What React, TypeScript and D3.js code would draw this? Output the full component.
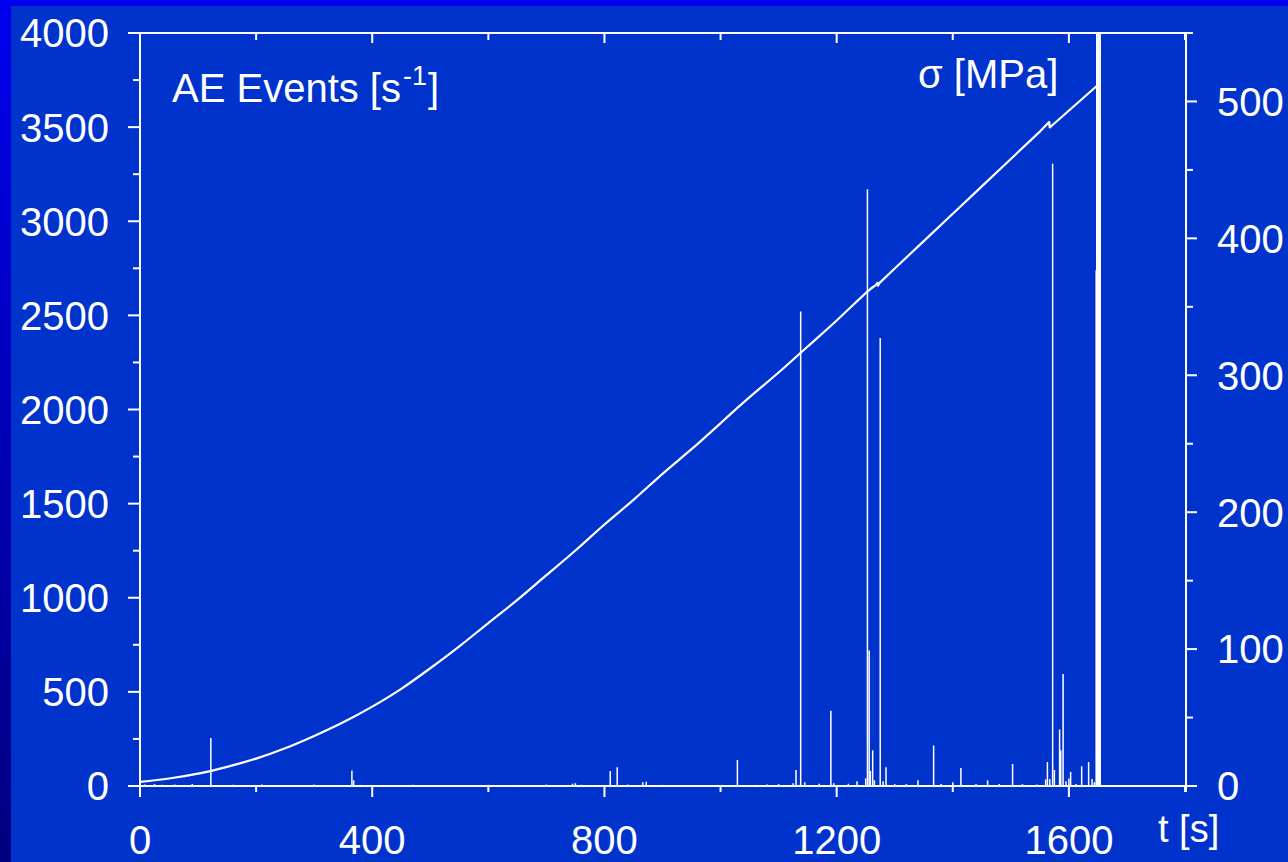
import React, { useRef, useEffect } from 'react';
import * as d3 from 'd3';

// stress curve (right axis)
const stressTime = [0, 50, 100, 150, 200, 250, 300, 350, 400, 450, 500, 550, 600, 650, 700, 750, 800, 850, 900, 950, 1000, 1050, 1100, 1150, 1200, 1250, 1268];
const stressValue = [3, 5.5, 9, 14, 20, 27.5, 36.5, 46.5, 58, 71, 86, 102, 119, 136, 154, 172, 191, 209, 228, 246, 265, 284, 302, 321, 340, 360, 366];
// from the little notch near 1270 s, through the drop near 1566 s, to failure
const stressTailTime = [1268, 1270, 1271, 1274, 1300, 1350, 1400, 1450, 1500, 1550, 1566, 1567, 1650];
const stressTailValue = [366, 367.5, 365.5, 367.5, 378, 398, 418, 438, 458, 478, 485, 481, 512];

// AE events (left axis)
const eventTime = [8, 25, 38, 60, 90, 122, 160, 210, 250, 300, 365, 368, 380, 420, 470, 520, 600, 650, 700, 745, 750, 760, 810, 822, 840, 866, 872, 900, 950, 1029, 1060, 1080, 1100, 1125, 1130, 1138, 1145, 1170, 1190, 1195, 1220, 1235, 1250, 1253, 1256, 1258, 1262, 1265, 1275, 1280, 1285, 1300, 1320, 1340, 1367, 1380, 1400, 1414, 1440, 1460, 1480, 1503, 1520, 1545, 1560, 1563, 1567, 1572, 1575, 1584, 1586, 1590, 1595, 1600, 1603, 1612, 1622, 1634, 1640, 1644, 1647, 1648, 1649, 1650, 1651, 1652, 1653, 1654];
const eventCount = [8, 10, 6, 8, 10, 255, 6, 8, 5, 8, 82, 30, 6, 5, 6, 5, 6, 6, 8, 12, 15, 6, 80, 100, 8, 20, 22, 6, 5, 138, 6, 8, 10, 15, 85, 2520, 20, 12, 400, 15, 12, 25, 40, 3170, 720, 80, 190, 30, 2380, 25, 100, 10, 10, 30, 215, 10, 20, 95, 10, 30, 10, 117, 10, 8, 35, 127, 37, 3305, 85, 300, 190, 595, 25, 40, 75, 10, 105, 127, 37, 20, 2740, 4500, 3900, 4500, 4500, 4500, 3550, 4500];

const timeTicks = [0, 400, 800, 1200, 1600];
const aeTicks = [0, 500, 1000, 1500, 2000, 2500, 3000, 3500, 4000];
const stressTicks = [0, 100, 200, 300, 400, 500];

const W = 1288;
const H = 862;
const FONT = '"Liberation Sans", Arial, sans-serif';

export default function App() {
  const ref = useRef<SVGSVGElement>(null);

  useEffect(() => {
    const svg = d3.select(ref.current);
    svg.selectAll('*').remove();

    const x = d3.scaleLinear().domain([0, 1800]).range([140, 1185]);
    const yAE = d3.scaleLinear().domain([0, 4000]).range([786, 33]);
    const yS = d3.scaleLinear().domain([0, 550]).range([786, 33]);
    const left = 140, right = 1186, top = 33, bottom = 786;

    // background
    const defs = svg.append('defs');
    const grad = defs.append('linearGradient').attr('id', 'edge').attr('x1', 0).attr('y1', 0).attr('x2', 0).attr('y2', 1);
    grad.append('stop').attr('offset', '0%').attr('stop-color', '#0000ee');
    grad.append('stop').attr('offset', '100%').attr('stop-color', '#000080');
    defs.append('clipPath').attr('id', 'plot')
      .append('rect').attr('x', left).attr('y', top).attr('width', right - left).attr('height', bottom - top);

    svg.append('rect').attr('width', W).attr('height', H).attr('fill', '#0033cc');
    svg.append('rect').attr('width', W).attr('height', 6).attr('fill', '#0000ee');
    svg.append('rect').attr('width', 11).attr('height', H).attr('fill', 'url(#edge)');

    const g = svg.append('g').attr('stroke', '#fff').attr('fill', 'none');

    // AE events
    const ev = g.append('g').attr('clip-path', 'url(#plot)').attr('stroke-width', 1.5);
    eventTime.forEach((t, i) => {
      ev.append('line')
        .attr('x1', x(t)).attr('x2', x(t))
        .attr('y1', yAE(0)).attr('y2', yAE(eventCount[i]));
    });

    // stress curve: smooth loading part, then straight segments
    const smooth = d3.line<number>()
      .x((_, i) => x(stressTime[i]))
      .y(d => yS(d))
      .curve(d3.curveNatural);
    const tail = d3.line<number>()
      .x((_, i) => x(stressTailTime[i]))
      .y(d => yS(d));
    g.append('path').datum(stressValue).attr('d', smooth).attr('stroke-width', 2.2).attr('stroke-linejoin', 'round');
    g.append('path').datum(stressTailValue).attr('d', tail).attr('stroke-width', 2.2).attr('stroke-linejoin', 'round');

    // frame
    const frame = g.append('g').attr('stroke-width', 2);
    frame.append('line').attr('x1', 128).attr('x2', 1193).attr('y1', top).attr('y2', top);
    frame.append('line').attr('x1', 128).attr('x2', 1197).attr('y1', bottom).attr('y2', bottom);
    frame.append('line').attr('x1', left).attr('x2', left).attr('y1', top).attr('y2', 797);
    frame.append('line').attr('x1', right).attr('x2', right).attr('y1', top).attr('y2', 792);

    // x ticks: bottom outward, top inward
    d3.range(0, 1801, 200).forEach(t => {
      const major = t % 400 === 0;
      frame.append('line').attr('x1', x(t)).attr('x2', x(t)).attr('y1', bottom).attr('y2', bottom + (major ? 11 : 6));
      frame.append('line').attr('x1', x(t)).attr('x2', x(t)).attr('y1', top).attr('y2', top + (major ? 10 : 7));
    });
    // left ticks
    d3.range(0, 4001, 250).forEach(v => {
      const major = v % 500 === 0;
      frame.append('line').attr('x1', left - (major ? 12 : 7)).attr('x2', left).attr('y1', yAE(v)).attr('y2', yAE(v));
    });
    // right ticks
    d3.range(0, 551, 50).forEach(v => {
      const major = v % 100 === 0;
      frame.append('line').attr('x1', right).attr('x2', right + (major ? 11 : 7)).attr('y1', yS(v)).attr('y2', yS(v));
    });

    const text = svg.append('g').attr('fill', '#fff').attr('font-family', FONT).attr('font-size', 40);

    aeTicks.forEach(v => {
      text.append('text').attr('x', 109).attr('y', yAE(v)).attr('dy', '0.36em').attr('text-anchor', 'end').text(v);
    });
    stressTicks.forEach(v => {
      text.append('text').attr('x', 1217).attr('y', yS(v)).attr('dy', '0.36em').text(v);
    });
    timeTicks.forEach(t => {
      text.append('text').attr('x', x(t)).attr('y', 854).attr('text-anchor', 'middle').text(t);
    });
    text.append('text').attr('x', 1158).attr('y', 842).attr('font-size', 38).text('t [s]');

    const ae = text.append('text').attr('x', 172).attr('y', 102);
    ae.append('tspan').text('AE Events [s');
    ae.append('tspan').attr('font-size', 27).attr('dx', 2).attr('dy', -17).text('-1');
    ae.append('tspan').attr('dx', 1).attr('dy', 17).text(']');

    text.append('text').attr('x', 918).attr('y', 88).text('σ [MPa]');
  }, []);

  return (
    <svg ref={ref} width={W} height={H} style={{ position: 'absolute', left: 0, top: 0 }} />
  );
}
